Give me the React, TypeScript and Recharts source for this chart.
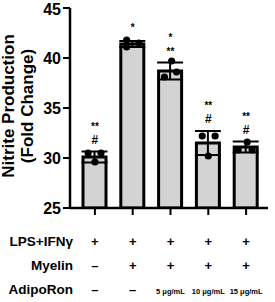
import React from "react";
import { ComposedChart, Bar, ErrorBar, Scatter, XAxis, YAxis } from "recharts";

const groups = ["g1", "g2", "g3", "g4", "g5"];
const means = [30.1, 41.4, 38.7, 31.5, 31.1];
const sds = [0.55, 0.3, 0.85, 1.2, 0.55];
const replicates = [
  [30.5, 30.5, 29.6],
  [41.8, 41.1, 41.5],
  [39.7, 38.1, 38.6],
  [32.2, 32.2, 30.2],
  [30.8, 31.6, 30.8],
];
const jitter = [
  [-0.18, 0.16, 0],
  [-0.16, -0.16, 0.16],
  [0.03, -0.16, 0.16],
  [-0.16, 0.18, 0],
  [-0.21, 0.03, 0.16],
];
const signif = [["**", "#"], ["*"], ["*", "**"], ["**", "#"], ["**", "#"]];
const rowLabels = ["LPS+IFNγ", "Myelin", "AdipoRon"];
const lpsRow = ["+", "+", "+", "+", "+"];
const myelinRow = ["–", "+", "+", "+", "+"];
const adipoRow = ["–", "–", "5 μg/mL", "10 μg/mL", "15 μg/mL"];
const yTicks = [25, 30, 35, 40, 45];

const barData = groups.map((g, i) => ({ name: g, mean: means[i], sd: sds[i] }));
const pointData = replicates.flatMap((vals, i) =>
  vals.map((v, j) => ({ px: i + 1 + jitter[i][j], y: v }))
);
const sigData = groups.map((g, i) => ({ px: i + 1, y: means[i] + sds[i], lines: signif[i] }));

const FONT = "Arial, 'Liberation Sans', sans-serif";

function Dot(props: any) {
  return <circle cx={props.cx} cy={props.cy} r={3.6} fill="#000" />;
}

function SigMark(props: any) {
  const lines: string[] = props.payload.lines;
  const n = lines.length;
  return (
    <g>
      {lines.map((t, k) => {
        const fromBottom = n - 1 - k;
        const isStar = t.includes("*");
        const y = props.cy - 8 - fromBottom * 14 + (isStar && n === 1 ? -2 : 0);
        return (
          <text key={k} x={props.cx} y={y} textAnchor="middle" fontFamily={FONT}
            fontWeight="bold" fontSize={isStar ? 10 : 12} fill="#000">
            {t}
          </text>
        );
      })}
    </g>
  );
}

function TableTick(props: any) {
  const { x, y, payload } = props;
  const i = groups.indexOf(payload.value);
  const rows = [lpsRow, myelinRow, adipoRow];
  const ys = [y + 29, y + 53, y + 77];
  return (
    <g>
      {rows.map((r, k) => {
        const v = r[i];
        const small = v.length > 2;
        return (
          <text key={k} x={x} y={ys[k]} textAnchor="middle" fontFamily={FONT}
            fontWeight="bold" fontSize={small ? 7.5 : 13} fill="#000">
            {v}
          </text>
        );
      })}
      {i === 0 &&
        rowLabels.map((l, k) => (
          <text key={"l" + k} x={73} y={ys[k]} textAnchor="end" fontFamily={FONT}
            fontWeight="bold" fontSize={13.5} fill="#000">
            {l}
          </text>
        ))}
    </g>
  );
}

function YTitle(props: any) {
  const vb = props.viewBox;
  const cy = vb.y + vb.height / 2 - 2;
  return (
    <g fontFamily={FONT} fontWeight="bold" fontSize={17} fill="#000">
      <text x={14} y={cy} textAnchor="middle" transform={`rotate(-90, 14, ${cy})`}>
        Nitrite Production
      </text>
      <text x={33} y={cy} textAnchor="middle" transform={`rotate(-90, 33, ${cy})`}>
        (Fold Change)
      </text>
    </g>
  );
}

export default function App() {
  return (
    <div style={{ position: "absolute", left: 0, top: 0, background: "#fff" }}>
      <ComposedChart width={275} height={302} data={barData}
        margin={{ top: 8, right: 7, bottom: 0, left: 0 }}>
        <XAxis dataKey="name" height={94} tick={<TableTick />} interval={0}
          padding={{ left: 6, right: 3 }}
          axisLine={{ stroke: "#000", strokeWidth: 2.5 }}
          tickLine={{ stroke: "#000", strokeWidth: 2 }} tickSize={7} />
        <XAxis xAxisId="num" type="number" dataKey="px" domain={[0.34, 5.58]}
          allowDataOverflow hide height={0} />
        <YAxis type="number" domain={[25, 45]} ticks={yTicks} width={70}
          allowDataOverflow
          axisLine={{ stroke: "#000", strokeWidth: 2.5 }}
          tickLine={{ stroke: "#000", strokeWidth: 2 }} tickSize={7}
          tick={{ fill: "#000", fontSize: 16, fontWeight: "bold", fontFamily: FONT }}
          label={{ content: <YTitle /> }} />
        <Bar dataKey="mean" barSize={23} fill="#d3d3d3" stroke="#000" strokeWidth={3}
          isAnimationActive={false}>
          <ErrorBar dataKey="sd" width={13} stroke="#000" strokeWidth={2} direction="y" />
        </Bar>
        <Scatter xAxisId="num" data={pointData} dataKey="y" shape={<Dot />} isAnimationActive={false} />
        <Scatter xAxisId="num" data={sigData} dataKey="y" shape={<SigMark />} isAnimationActive={false} />
      </ComposedChart>
    </div>
  );
}
